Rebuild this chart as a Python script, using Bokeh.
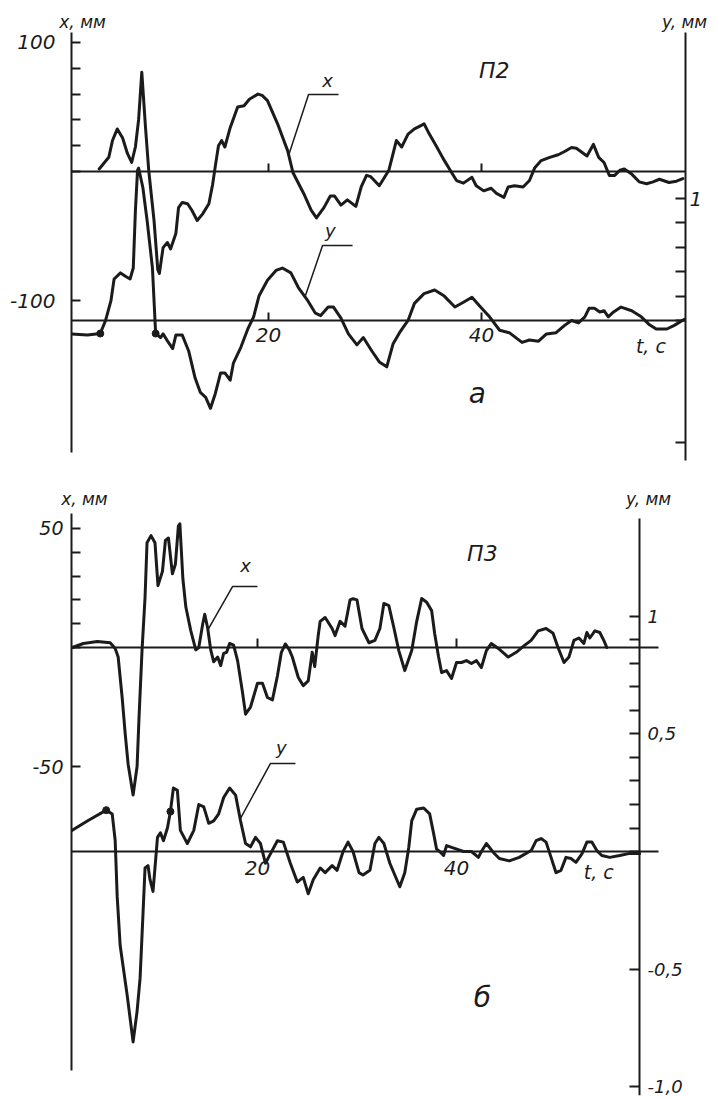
from bokeh.plotting import figure
from bokeh.models import Range1d, LinearAxis, FixedTicker, Label
from bokeh.layouts import column
from bokeh.embed import file_html
from bokeh.resources import INLINE

# ---------------- data: panel "а" (П2) ----------------
t_a_x = [4.1, 5.0, 5.35, 5.8, 6.3, 6.75, 7.15, 7.5, 7.8, 8.1,
         8.45, 8.75, 9.25, 9.6, 9.75, 10.1, 10.5, 10.8, 11.3, 11.55,
         11.9, 12.4, 12.8, 13.3, 13.8, 14.4, 14.75, 15.0, 15.3, 15.6,
         15.9, 16.4, 17.1, 17.7, 18.2, 19.0, 19.4, 19.9, 20.85, 21.8,
         22.3, 23.3, 24.0, 24.5, 25.2, 25.8, 26.2, 26.8, 27.4, 28.2,
         28.7, 29.2, 29.6, 30.4, 31.3, 31.7, 32.0, 32.5, 33.1, 33.7,
         34.4, 34.6, 35.1, 35.8, 36.4, 37.2, 37.65, 38.3, 39.1, 39.5,
         40.2, 40.9, 41.4, 42.1, 42.5, 43.1, 43.9, 44.5, 45.0, 45.6,
         46.4, 47.2, 47.8, 48.45, 48.9, 49.9, 50.5, 51.0, 51.5, 52.0,
         52.5, 53.0, 53.4, 54.1, 54.8, 55.5, 56.1, 56.7, 57.6, 58.3,
         58.9]
x_a = [2, 11, 24, 33, 26, 14, 7, 19, 40, 77,
       34, 1, -38, -76, -79, -59, -55, -60, -48, -28,
       -24, -25, -30, -38, -33, -25, -10, 4, 20, 24,
       19, 34, 50, 51, 56, 60, 59, 55, 37, 16,
       -1, -17, -30, -36, -28, -19, -19, -26, -22, -27,
       -12, -3, -4, -11, 1, 14, 24, 19, 29, 33,
       36, 37, 29, 19, 10, -1, -7, -9, -4.5, -11,
       -15, -13, -17, -20, -12, -11, -12, -7, 3, 8.5,
       11, 13, 15.5, 18.6, 18, 12, 21, 11, 7, -3,
       -3, 1, 2, -2, -8, -9.5, -8, -6, -8.5, -7.5,
       -5.5]

t_a_y = [1.5, 3.0, 4.2, 4.7, 5.2, 5.5, 6.1, 6.6, 7.0, 7.3,
         7.5, 7.7, 7.8, 8.2, 8.6, 9.1, 9.4, 9.86, 10.1, 10.6,
         11.0, 11.3, 11.9, 12.5, 13.1, 13.6, 14.1, 14.55, 15.0, 15.5,
         15.9, 16.4, 16.7, 17.4, 18.1, 18.6, 19.1, 19.9, 20.7, 21.3,
         22.1, 22.8, 23.7, 24.4, 24.9, 25.6, 26.1, 26.8, 27.5, 28.3,
         28.9, 29.7, 30.4, 31.1, 31.7, 32.3, 33.1, 33.7, 34.6, 35.6,
         36.5, 37.5, 38.3, 39.1, 39.8, 40.75, 41.7, 42.6, 43.8, 44.5,
         45.35, 46.1, 47.0, 47.8, 48.45, 49.1, 49.7, 50.1, 50.6, 51.1,
         51.5, 51.9, 52.4, 53.1, 54.1, 55.0, 55.7, 56.4, 57.4, 58.1,
         59.05]
y_a = [-0.11, -0.12, -0.107, 0, 0.16, 0.34, 0.39, 0.36, 0.34, 0.43,
       0.9, 1.23, 1.25, 1.09, 0.82, 0.43, -0.107, -0.14, -0.11, -0.18,
       -0.23, -0.12, -0.12, -0.25, -0.47, -0.59, -0.63, -0.72, -0.6, -0.43,
       -0.43, -0.49, -0.35, -0.22, -0.06, 0.03, 0.2, 0.33, 0.41, 0.43,
       0.39, 0.27, 0.16, 0.06, 0.04, 0.11, 0.11, 0.02, -0.11, -0.2,
       -0.14, -0.25, -0.34, -0.38, -0.19, -0.1, 0, 0.14, 0.22, 0.25,
       0.2, 0.11, 0.15, 0.19, 0.12, 0.03, -0.08, -0.1, -0.18, -0.16,
       -0.17, -0.11, -0.1, -0.04, 0, -0.02, 0.03, 0.1, 0.1, 0.07,
       0.08, 0.03, 0.07, 0.11, 0.08, 0.03, -0.03, -0.07, -0.07, -0.04,
       0.01]
dots_a_t = [4.2, 9.4]
dots_a_y = [-0.107, -0.107]

# ---------------- data: panel "б" (П3) ----------------
t_b_x = [1.4, 2.5, 3.9, 5.2, 5.7, 6.0, 6.4, 6.7, 7.0, 7.5,
         7.9, 8.1, 8.4, 8.7, 8.9, 9.3, 9.7, 10.0, 10.45, 10.75,
         11.05, 11.45, 11.75, 12.05, 12.2, 12.5, 12.8, 13.3, 13.8, 14.1,
         14.5, 14.7, 15.0, 15.3, 15.6, 16.0, 16.3, 16.6, 16.9, 17.2,
         17.6, 18.0, 18.5, 18.8, 19.3, 20.0, 20.5, 21.0, 21.5, 22.0,
         22.4, 22.8, 23.2, 23.5, 24.1, 24.6, 25.1, 25.5, 25.75, 26.1,
         26.3, 26.8, 27.5, 27.8, 28.3, 28.8, 29.3, 29.6, 30.0, 30.5,
         31.2, 31.8, 32.3, 32.7, 33.2, 33.7, 34.2, 34.8, 35.5, 36.0,
         36.5, 37.0, 37.5, 37.8, 38.2, 38.5, 39.0, 39.5, 40.0, 40.5,
         41.0, 41.5, 42.0, 42.5, 43.0, 43.5, 44.2, 45.2, 46.0, 46.8,
         47.5, 48.2, 49.0, 49.7, 50.2, 50.8, 51.3, 51.8, 52.3, 52.8,
         53.1, 53.4, 53.9, 54.4, 54.8, 55.1]
x_b = [0, 1.7, 2.5, 2, -0.4, -4, -21, -36, -49, -62,
       -50, -29, -1, 21, 44, 47, 44, 26, 32, 45,
       46, 31, 35, 51, 52, 29, 17, 7, -1, 0,
       10, 14, 8, -1, -6, -4, -7.6, -2.5, -2, 1.7,
       1, -5.5, -19, -28, -25, -15, -15, -21, -22, -12,
       -2, 1.5, -1, -4, -12.6, -16, -14, -2, -8, 5,
       11, 12.6, 8, 5, 11, 9, 20, 20.5, 20, 8,
       2, 3, 8, 18.5, 17.6, 8.4, -1.3, -9.7, -1.3, 11,
       20.6, 19, 15.5, 6, -4, -10.5, -9.7, -13, -6.3, -6.3,
       -5.5, -6.7, -5.5, -8.4, -1.3, 1.7, -0.4, -4, -2, 0.8,
       3, 7, 8, 6, 0, -6.3, -4, 3, 4, 1.7,
       6.3, 4, 7, 6.3, 3, 0]

t_b_y = [1.3, 2.9, 4.8, 5.4, 5.7, 5.9, 6.2, 6.9, 7.5, 7.9,
         8.2, 8.5, 8.7, 9.0, 9.2, 9.5, 9.7, 9.95, 10.25, 10.55,
         10.95, 11.25, 11.55, 11.95, 12.25, 12.95, 13.6, 14.1, 14.6, 15.1,
         15.6, 16.1, 16.6, 17.2, 17.8, 18.3, 18.8, 19.3, 19.8, 20.3,
         20.8, 21.3, 22.0, 22.6, 23.3, 24.0, 24.6, 25.1, 25.6, 26.3,
         26.8, 27.5, 28.0, 28.6, 29.1, 29.6, 30.2, 30.6, 31.3, 31.8,
         32.2, 32.7, 33.3, 34.0, 34.3, 34.8, 35.2, 35.5, 36.0, 36.7,
         37.3, 37.7, 38.0, 38.3, 38.7, 39.0, 39.8, 40.7, 41.5, 42.2,
         42.5, 43.0, 43.7, 44.3, 45.3, 46.3, 47.5, 48.0, 48.5, 49.0,
         49.5, 50.0, 50.5, 51.0, 51.5, 52.0, 52.6, 53.1, 53.6, 54.1,
         54.6, 55.4, 56.4, 57.4, 58.4]
y_b = [0.088, 0.13, 0.176, 0.16, 0.046, -0.19, -0.4, -0.61, -0.81, -0.68,
       -0.54, -0.26, -0.07, -0.06, -0.12, -0.17, -0.07, 0.06, 0.08, 0.046,
       0.1, 0.17, 0.27, 0.26, 0.09, 0.034, 0.09, 0.2, 0.19, 0.12,
       0.13, 0.16, 0.23, 0.27, 0.24, 0.13, 0.034, 0.02, 0.06, 0.034,
       -0.05, -0.01, 0.046, 0.04, -0.05, -0.13, -0.11, -0.18, -0.12, -0.07,
       -0.09, -0.06, -0.08, 0, 0.04, 0.0, -0.09, -0.1, -0.08, 0.034,
       0.06, 0.034, -0.05, -0.12, -0.15, -0.09, 0.017, 0.13, 0.18, 0.185,
       0.16, 0.076, 0.01, 0.0, -0.017, 0.025, 0.013, 0.0, 0.0, -0.025,
       0.0, 0.034, -0.004, -0.03, -0.04, -0.025, 0.004, 0.046, 0.055, 0.04,
       -0.025, -0.09, -0.08, -0.025, -0.03, -0.046, -0.01, 0.04, 0.04, 0.004,
       -0.017, -0.025, -0.017, -0.008, -0.008]
dots_b_t = [4.8, 11.25]
dots_b_y = [0.176, 0.17]

# ---------------- axes: ticks and labels ----------------
t_ticks = [20, 40]
t_labels = {20: "20", 40: "40"}
a_left_ticks = [-100, 0, 20, 40, 60, 80, 100]
a_left_labels = {-100: "-100", 100: "100"}
a_right_ticks = [-1.0, 0.0, 0.2, 0.4, 0.6, 0.8, 1.0]
a_right_labels = {1.0: "1"}
b_left_ticks = [-50, 0, 10, 20, 30, 40, 50]
b_left_labels = {-50: "-50", 50: "50"}
b_right_ticks = [-1.0, -0.5, 0.0, 0.1, 0.2, 0.3, 0.4, 0.5, 0.6, 0.7, 0.8, 0.9, 1.0]
b_right_labels = {1.0: "1", 0.5: "0,5", -0.5: "-0,5", -1.0: "-1,0"}
axis_names = ["x, мм", "y, мм"]

FONT = "DejaVu Sans"
INK = "#1b1b1b"


def overrides(ticks, labels):
    return {t: labels.get(t, "") for t in ticks}


def style_axis(ax, size, standoff, tick_in, line=True):
    ax.axis_line_width = 2
    ax.axis_line_color = INK if line else None
    ax.major_tick_line_width = 2
    ax.major_tick_line_color = INK if tick_in > 0 else None
    ax.major_tick_in = tick_in
    ax.major_tick_out = 0
    ax.minor_tick_in = 0
    ax.minor_tick_out = 0
    ax.minor_tick_line_color = None
    ax.major_label_text_font = FONT
    ax.major_label_text_font_style = "italic"
    ax.major_label_text_font_size = size
    ax.major_label_text_color = INK
    ax.major_label_standoff = standoff


def panel(height, top, bottom, t_rng, x_rng, y_rng):
    p = figure(width=716, height=height, x_range=Range1d(*t_rng),
               y_range=Range1d(*x_rng), x_axis_location=None,
               toolbar_location=None, output_backend="svg",
               min_border_left=71, min_border_right=31,
               min_border_top=top, min_border_bottom=bottom)
    p.outline_line_color = None
    p.grid.visible = False
    p.background_fill_color = "white"
    p.border_fill_color = "white"
    p.extra_y_ranges = {"y": Range1d(*y_rng)}
    return p


def left_axis(p, ticks, labels, bounds, size, standoff):
    la = p.yaxis[0]
    la.ticker = FixedTicker(ticks=ticks, minor_ticks=[])
    la.major_label_overrides = overrides(ticks, labels)
    la.bounds = bounds
    style_axis(la, size, standoff, 9)


def right_axis(p, ticks, labels, bounds, size, standoff, loc=None):
    ra = LinearAxis(y_range_name="y", ticker=FixedTicker(ticks=ticks, minor_ticks=[]),
                    major_label_overrides=overrides(ticks, labels), bounds=bounds,
                    fixed_location=loc)
    style_axis(ra, size, standoff, 10)
    p.add_layout(ra, "right")


def time_axis(p, rng, labels, tick_in, bounds, size="20px", standoff=8):
    ax = LinearAxis(y_range_name=rng, fixed_location=0,
                    ticker=FixedTicker(ticks=t_ticks, minor_ticks=[]),
                    major_label_overrides=overrides(t_ticks, labels), bounds=bounds)
    style_axis(ax, size, standoff, tick_in)
    p.add_layout(ax, "below")


def axis_titles(p, t_left, t_right, standoff, size="17px"):
    ticks = [t_left, t_right]
    ax = LinearAxis(ticker=FixedTicker(ticks=ticks, minor_ticks=[]),
                    major_label_overrides=dict(zip(ticks, axis_names)))
    style_axis(ax, size, standoff, 0, line=False)
    p.add_layout(ax, "above")


def text(p, t, v, s, size):
    p.add_layout(Label(x=t, y=v, text=s, text_font=FONT, text_font_style="italic",
                       text_font_size=size, text_color=INK, text_align="center",
                       text_baseline="middle"))


# ---------------- panel а ----------------
pa = panel(470, 32, 10, (1.50, 59.15), (-224.0, 107.75), (-1.148, 2.361))
left_axis(pa, a_left_ticks, a_left_labels, (-218, 107.75), "20px", 16)
right_axis(pa, a_right_ticks, a_right_labels, "auto", "20px", 4)
time_axis(pa, "default", {}, 8, "auto")
time_axis(pa, "y", t_labels, 8, "auto")
axis_titles(pa, 2.54, 59.06, 1)

pa.line(t_a_x, x_a, line_width=3, line_color=INK, line_join="round", line_cap="round")
pa.line(t_a_y, y_a, line_width=3, line_color=INK, line_join="round", line_cap="round",
        y_range_name="y")
pa.scatter(dots_a_t, dots_a_y, size=7, color=INK, y_range_name="y")
pa.line([26.57, 23.76, 21.88], [59.7, 59.7, 12.4], line_width=1.5, line_color=INK)
pa.line([27.89, 25.07, 23.47], [-57.4, -57.4, -96.1], line_width=1.5, line_color=INK)
text(pa, 41.2, 78.3, "П2", "22px")
text(pa, 25.54, 70.5, "x", "18px")
text(pa, 25.8, -45.7, "y", "18px")
text(pa, 55.9, -134.9, "t, с", "19px")
text(pa, 39.6, -172.1, "а", "28px")

# ---------------- panel б ----------------
pb = panel(628, 43, 3, (1.31, 63.01), (-188.2, 56.3), (-1.038, 1.438))
left_axis(pb, b_left_ticks, b_left_labels, (-177.7, 56.3), "19px", 8)
right_axis(pb, b_right_ticks, b_right_labels, (-1.038, 1.417), "18px", 8, loc=58.39)
time_axis(pb, "default", {}, 9, (1.31, 60.3))
time_axis(pb, "y", t_labels, 0, (1.31, 60.3), standoff=9)
axis_titles(pb, 2.61, 59.3, 5)

pb.line(t_b_x, x_b, line_width=3, line_color=INK, line_join="round", line_cap="round")
pb.line(t_b_y, y_b, line_width=3, line_color=INK, line_join="round", line_cap="round",
        y_range_name="y")
pb.scatter(dots_b_t, dots_b_y, size=7, color=INK, y_range_name="y")
pb.line([20.0, 17.49, 14.97], [25.6, 25.6, 7.1], line_width=1.5, line_color=INK)
pb.line([23.82, 21.31, 18.29], [-48.7, -48.7, -71.8], line_width=1.5, line_color=INK)
text(pb, 42.6, 39.5, "П3", "22px")
text(pb, 18.8, 34.5, "x", "18px")
text(pb, 22.4, -42.0, "y", "18px")
text(pb, 54.3, -94.5, "t, с", "19px")
text(pb, 42.6, -147.1, "б", "28px")

layout = column(pa, pb)
open("out.html", "w").write(file_html(layout, INLINE))
